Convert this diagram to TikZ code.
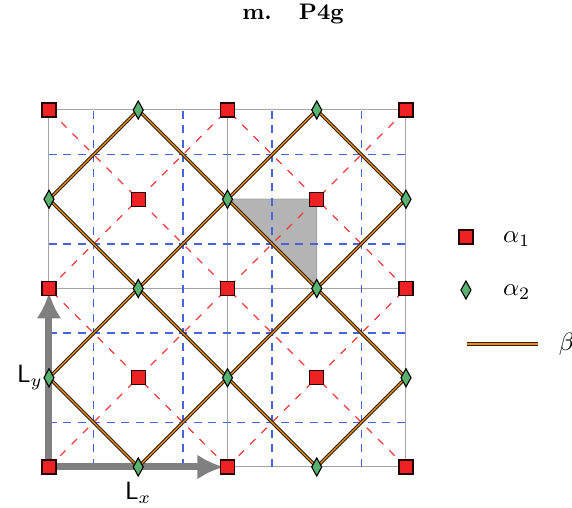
\documentclass[tikz,border=0pt]{standalone}
\usetikzlibrary{shapes.geometric,arrows.meta}
\definecolor{sqred}{RGB}{238,34,34}
\definecolor{dmgreen}{RGB}{90,178,112}
\definecolor{bluedash}{RGB}{70,100,220}
\definecolor{reddash}{RGB}{240,60,60}
\definecolor{gridgray}{RGB}{165,165,165}
\definecolor{trigray}{RGB}{180,180,180}
\definecolor{arrgray}{RGB}{128,128,128}
\definecolor{betaout}{RGB}{50,32,8}
\definecolor{betain}{RGB}{232,140,30}
\tikzset{
  sqmark/.style={rectangle,draw=black!85!red,fill=sqred,line width=0.45pt,minimum size=5.6pt,inner sep=0pt},
  dmmark/.style={diamond,draw=black,fill=dmgreen,line width=0.45pt,minimum width=4.2pt,minimum height=7.4pt,inner sep=0pt},
  gridline/.style={draw=gridgray,line width=0.4pt},
  bluedashed/.style={draw=bluedash,dash pattern=on 3.2pt off 2.6pt,line width=0.55pt},
  reddashed/.style={draw=reddash,dash pattern=on 3pt off 3.4pt,line width=0.45pt},
  betaline/.style={draw=betaout,double=betain,line width=0.45pt,double distance=0.45pt},
  latarrow/.style={draw=arrgray,line width=2.8pt,-{Latex[length=10.5pt,width=10pt]}}
}
\begin{document}
\begin{tikzpicture}[x=35.7pt,y=35.7pt]
\useasboundingbox (-0.549,-0.4594) rectangle (5.860,5.2325);
% asymmetric unit
\filldraw[fill=trigray,draw=gridgray,line width=0.4pt] (2,3) -- (3,3) -- (3,2) -- cycle;
% grid
\foreach \k in {0,2,4} {
  \draw[gridline] (\k,0) -- (\k,4);
  \draw[gridline] (0,\k) -- (4,\k);
}
% blue dashed
\foreach \k in {0.5,1.5,2.5,3.5} {
  \draw[bluedashed] (\k,0) -- (\k,4);
  \draw[bluedashed] (0,\k) -- (4,\k);
}
% red dashed diagonals
\draw[reddashed] (0,0) -- (4,4);
\draw[reddashed] (2,0) -- (4,2);
\draw[reddashed] (0,2) -- (2,4);
\draw[reddashed] (2,0) -- (0,2);
\draw[reddashed] (4,0) -- (0,4);
\draw[reddashed] (4,2) -- (2,4);
% lattice arrows
\coordinate (O) at (0,0);
\coordinate (Xe) at (2,0);
\coordinate (Ye) at (0,2);
\draw[latarrow,shorten >=1.5pt] (O) -- (Xe);
\draw[latarrow,shorten >=1.5pt] (O) -- (Ye);
\node (lx) at (1,-0.29) {$\mathsf{L}_x$};
\node (ly) at (-0.215,1) {$\mathsf{L}_y$};
% diamond positions (alpha_2)
\foreach \x/\y/\n in {1/0/d10,3/0/d30,0/1/d01,2/1/d21,4/1/d41,1/2/d12,3/2/d32,0/3/d03,2/3/d23,4/3/d43,1/4/d14,3/4/d34} {
  \coordinate (\n) at (\x,\y);
}
% beta lines
\draw[betaline] (d10) -- (d43);
\draw[betaline] (d30) -- (d41);
\draw[betaline] (d01) -- (d34);
\draw[betaline] (d03) -- (d14);
\draw[betaline] (d10) -- (d01);
\draw[betaline] (d30) -- (d03);
\draw[betaline] (d41) -- (d14);
\draw[betaline] (d43) -- (d34);
% markers
\foreach \x/\y/\n in {1/0/d10,3/0/d30,0/1/d01,2/1/d21,4/1/d41,1/2/d12,3/2/d32,0/3/d03,2/3/d23,4/3/d43,1/4/d14,3/4/d34} {
  \node[dmmark] (m\n) at (\x,\y) {};
}
\foreach \x/\y/\n in {0/0/s00,2/0/s20,4/0/s40,0/2/s02,2/2/s22,4/2/s42,0/4/s04,2/4/s24,4/4/s44,1/1/s11,3/1/s31,1/3/s13,3/3/s33} {
  \node[sqmark] (\n) at (\x,\y) {};
}
% legend
\node[sqmark] (legsq) at (4.672,2.577) {};
\node (legA1) at (5.24,2.55) {$\alpha_1$};
\node[dmmark] (legdm) at (4.672,1.983) {};
\node (legA2) at (5.24,1.96) {$\alpha_2$};
\coordinate (legb1) at (4.683,1.378);
\coordinate (legb2) at (5.479,1.378);
\draw[betaline] (legb1) -- (legb2);
\node (legB) at (5.80,1.37) {$\beta$};
% title
\node (title) at (2.734,5.076) {\fontsize{9}{10}\selectfont\bfseries m.\hspace{1.2em}P4g};
\end{tikzpicture}
\end{document}
